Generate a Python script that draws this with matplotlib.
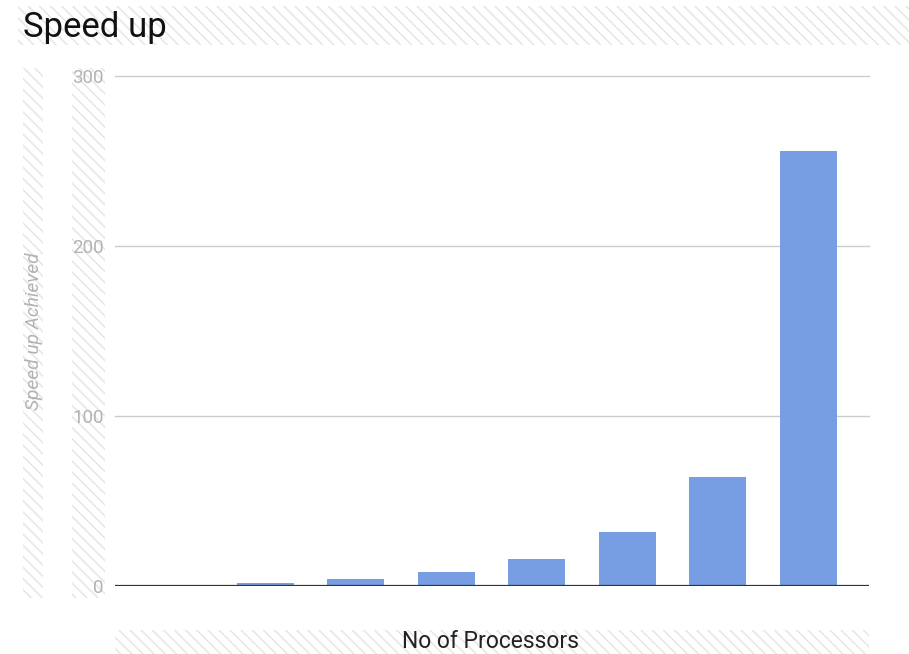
import matplotlib
matplotlib.use("Agg")
import matplotlib.pyplot as plt
from matplotlib.patches import Rectangle

plt.rcParams['font.family'] = ['Roboto', 'DejaVu Sans']
plt.rcParams['hatch.linewidth'] = 1.1

processors = ["1", "2", "4", "8", "16", "32", "64", "256"]
speedup = [0, 2, 4, 8, 16, 32, 64, 256]
y_ticks = [0, 100, 200, 300]

W, H = 909, 654
fig = plt.figure(figsize=(W / 100, H / 100), dpi=100)


def px_box(x0, y0, x1, y1):
    return (x0 / W, 1 - y1 / H, (x1 - x0) / W, (y1 - y0) / H)


# light diagonal stripes behind the title and axis-label areas
for x0, y0, x1, y1 in [(18, 6, 909, 45), (23, 68, 43, 598), (72, 68, 105, 598), (115, 630, 869, 654)]:
    l, b, w, h = px_box(x0, y0, x1, y1)
    fig.add_artist(Rectangle((l, b), w, h, transform=fig.transFigure, fill=False,
                             hatch='\\\\\\', edgecolor='#e6e6e6', linewidth=0, zorder=0))

l, b, w, h = px_box(115, 76, 869, 586)
ax = fig.add_axes([l, b, w, h])
ax.set_facecolor('none')

x = list(range(len(processors)))
ax.bar(x, speedup, width=0.63, color='#779ee3', zorder=3)
ax.set_xlim(-0.66, len(processors) - 1 + 0.67)
ax.set_ylim(0, 300)
ax.set_yticks(y_ticks)
ax.set_yticklabels([str(v) for v in y_ticks], color='#b3b3b3', fontsize=13.5)
ax.tick_params(axis='y', length=0, pad=8)
ax.set_xticks([])
for v in y_ticks[1:]:
    ax.axhline(v, color='#cccccc', linewidth=1, zorder=1, clip_on=False)
ax.axhline(0, color='#333333', linewidth=1.6, zorder=4)
for s in ax.spines.values():
    s.set_visible(False)

fig.text(23 / W, 1 - 37 / H, "Speed up", fontsize=25, color='#111111', ha='left', va='baseline')
fig.text(34 / W, 1 - 331 / H, "Speed up Achieved", fontsize=13.8, color='#b3b3b3',
         style='italic', rotation=90, ha='center', va='center')
fig.text(491 / W, 1 - 641 / H, "No of Processors", fontsize=16.5, color='#222222',
         ha='center', va='center')

fig.savefig("out.png", dpi=100, facecolor='white')
